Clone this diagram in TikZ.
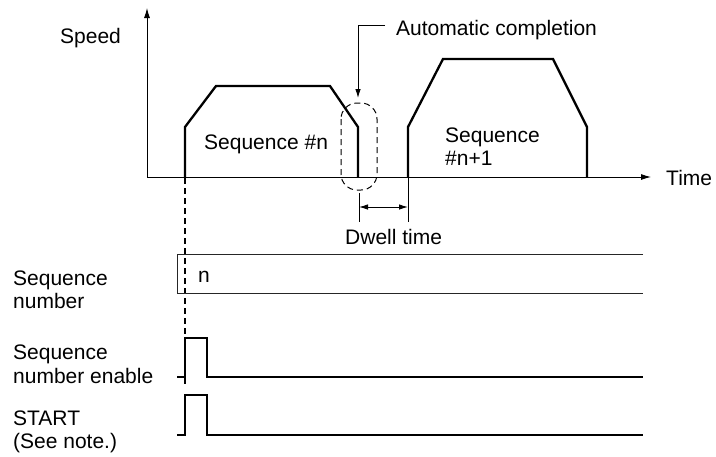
\documentclass[tikz,border=0pt]{standalone}
\usepackage{fontspec}
\setmainfont{Liberation Sans}
\usetikzlibrary{arrows.meta}
\tikzset{
  lbl/.style={anchor=base west, inner sep=0pt, font=\fontsize{21}{23}\selectfont},
  thick profile/.style={line width=2.3pt, line join=miter},
  sig/.style={line width=1.8pt},
  thinline/.style={line width=0.9pt},
  axisarrow/.style={-{Latex[length=10pt,width=6pt]}},
  smallarrow/.style={-{Latex[length=9pt,width=5.5pt]}},
  dblarrow/.style={{Latex[length=9pt,width=5.5pt]}-{Latex[length=9pt,width=5.5pt]}},
  dashline/.style={line width=1.3pt, dash pattern=on 6pt off 4pt},
  capsule/.style={line width=1pt, dash pattern=on 6pt off 4pt, rounded corners=16pt}
}
\begin{document}
\begin{tikzpicture}[x=1pt,y=-1pt]
\useasboundingbox (0,0) rectangle (716,456);
% axes
\coordinate (O) at (147,177);
\coordinate (Ytop) at (147,8);
\coordinate (Xend) at (651,177);
\draw[thinline,axisarrow] (O) -- (Ytop);
\draw[thinline,axisarrow] (O) -- (Xend);
\node[lbl] (speed) at (60,43) {Speed};
\node[lbl] (time) at (666,185) {Time};
% profiles
\draw[thick profile] (185,177) -- (185,127) -- (216,86) -- (330,86) -- (358,127) -- (358,177);
\draw[thick profile] (408,177) -- (408,127) -- (443,59) -- (553,59) -- (587,127) -- (587,177);
\node[lbl] (seqn) at (204,149) {Sequence \#n};
\node[lbl] (seqn1a) at (445,142) {Sequence};
\node[lbl] (seqn1b) at (445,165) {\#n+1};
% automatic completion
\draw[capsule] (341,103) rectangle (377,190);
\node[lbl] (auto) at (396,35) {Automatic completion};
\coordinate (acorner) at (358,25);
\coordinate (atip) at (358,98);
\draw[thinline,smallarrow] (auto.west |- 0,25) ++(-11,0) -- (acorner) -- (atip);
% dwell time
\coordinate (d1t) at (359,193);
\coordinate (d1b) at (359,222);
\coordinate (d2t) at (408,177);
\coordinate (d2b) at (408,222);
\draw[thinline] (d1t) -- (d1b);
\draw[thinline] (d2t) -- (d2b);
\draw[thinline,dblarrow] (359,207) -- (408,207);
\node[lbl] (dwell) at (345,244) {Dwell time};
% dashed marker
\draw[dashline] (185,178) -- (185,386);
% sequence number bus
\draw[thinline, draw=black!85] (643,254) -- (177,254) -- (177,293) -- (643,293);
\node[lbl] (nlab) at (198,282) {n};
\node[lbl] (sn1) at (13,285) {Sequence};
\node[lbl] (sn2) at (13,308) {number};
% sequence number enable
\draw[sig] (177,377) -- (185,377) -- (185,338) -- (207,338) -- (207,377) -- (643,377);
\node[lbl] (se1) at (13,359) {Sequence};
\node[lbl] (se2) at (13,383) {number enable};
% START
\draw[sig] (177,435) -- (185,435) -- (185,395) -- (207,395) -- (207,435) -- (643,435);
\node[lbl] (st1) at (13,425) {START};
\node[lbl] (st2) at (13,448) {(See note.)};
\end{tikzpicture}
\end{document}
